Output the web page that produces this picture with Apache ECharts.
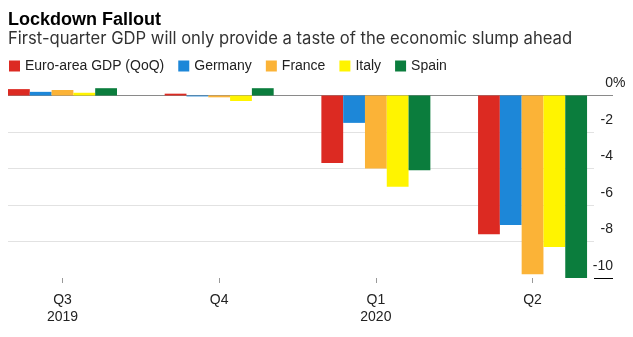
<!DOCTYPE html>
<html><head><meta charset="utf-8">
<script src="https://cdn.jsdelivr.net/npm/echarts@6/dist/echarts.min.js"></script>
<style>html,body{margin:0;padding:0;background:#fff;overflow:hidden}#c{position:absolute;left:-16px;top:0;width:649px;height:337px}</style>
</head><body><div id="c"></div>
<script>
// ---- data ----
const quarters = ['Q3', 'Q4', 'Q1', 'Q2'];
const years = ['2019', '', '2020', ''];
const seriesNames = ['Euro-area GDP (QoQ)', 'Germany', 'France', 'Italy', 'Spain'];
const euroArea = [0.35, 0.1, -3.7, -7.6];
const germany = [0.2, -0.05, -1.5, -7.1];
const france = [0.3, -0.1, -4.0, -9.8];
const italy = [0.15, -0.3, -5.0, -8.3];
const spain = [0.4, 0.4, -4.1, -10.0];
const yMin = -10, yMax = 0, yStep = 2;

// ---- styling ----
const FONT = '"Liberation Sans", Arial, sans-serif';
const colors = ['#dc2a22', '#1d87d8', '#fbb337', '#fff400', '#0b7d3d'];
const values = [euroArea, germany, france, italy, spain];
const catLabels = quarters.map((q, i) => years[i] ? q + '\n' + years[i] : q);
const OX = 16; // container is shifted 16px left

const chart = echarts.init(document.getElementById('c'), null, {renderer: 'canvas'});
const T = 'rgba(0,0,0,0)';
chart.setOption({
  animation: false,
  backgroundColor: '#fff',
  title: [
    {text: 'Lockdown Fallout', left: 8 + OX, top: 11, padding: 0,
     textStyle: {fontFamily: FONT, fontSize: 18, fontWeight: 'bold', color: '#000'}},
    {text: 'First-quarter GDP will only provide a taste of the economic slump ahead', left: 8 + OX, top: 30.2, padding: 0,
     textStyle: {fontFamily: 'Inter, ' + FONT, fontSize: 16.6, fontWeight: 'normal', color: '#333'}}
  ],
  legend: {
    left: 9 + OX, top: 59, padding: 0, itemWidth: 11, itemHeight: 11, itemGap: 14, icon: 'rect',
    data: seriesNames,
    textStyle: {fontFamily: FONT, fontSize: 14, color: '#222'}
  },
  grid: [
    {left: 0.15, right: 22.1, top: 84.55, bottom: 59},
    {left: 8 + OX, right: 39, top: 95.5, bottom: 59},
    {left: 594 + OX, right: 20, top: 95.5, bottom: 59}
  ],
  xAxis: [
    {type: 'category', gridIndex: 0, data: catLabels,
     axisLine: {show: false, onZero: false},
     axisTick: {show: true, alignWithLabel: true, length: 5, lineStyle: {color: '#999'}},
     axisLabel: {margin: 13.5, lineHeight: 17, fontSize: 14, fontFamily: FONT, color: '#222'},
     splitLine: {show: false}},
    {type: 'value', gridIndex: 1, min: 0, max: 1, show: false},
    {type: 'value', gridIndex: 2, min: 0, max: 1, show: false}
  ],
  yAxis: [
    {type: 'value', gridIndex: 0, min: yMin, max: 0.6, show: false},
    {type: 'value', gridIndex: 1, min: yMin, max: yMax, interval: yStep,
     axisLine: {show: false}, axisTick: {show: false}, axisLabel: {show: false},
     splitLine: {show: true, lineStyle: {width: 1, color: [T, '#e2e2e2', '#e2e2e2', '#e2e2e2', '#e2e2e2', '#8a8a8a']}}},
    {type: 'value', gridIndex: 2, position: 'right', min: yMin, max: yMax, interval: yStep,
     axisLine: {show: false}, axisTick: {show: false},
     splitLine: {show: true, lineStyle: {width: 1, color: ['#000', T, T, T, T, '#8a8a8a']}},
     axisLabel: {inside: true, margin: -12.4, align: 'right', verticalAlign: 'bottom',
       padding: [0, 0, 5, 0], showMinLabel: true, showMaxLabel: true,
       fontSize: 14, fontFamily: FONT, color: '#222',
       formatter: v => v === 0 ? '0{p|%}' : v + '{s|}',
       rich: {p: {fontSize: 14, fontFamily: FONT, color: '#222'}, s: {width: 12.4}}}}
  ],
  series: seriesNames.map((n, i) => ({
    name: n, type: 'bar', xAxisIndex: 0, yAxisIndex: 0,
    data: values[i], barWidth: 21.8, barGap: '0%',
    itemStyle: {color: colors[i]}
  }))
});
</script></body></html>
